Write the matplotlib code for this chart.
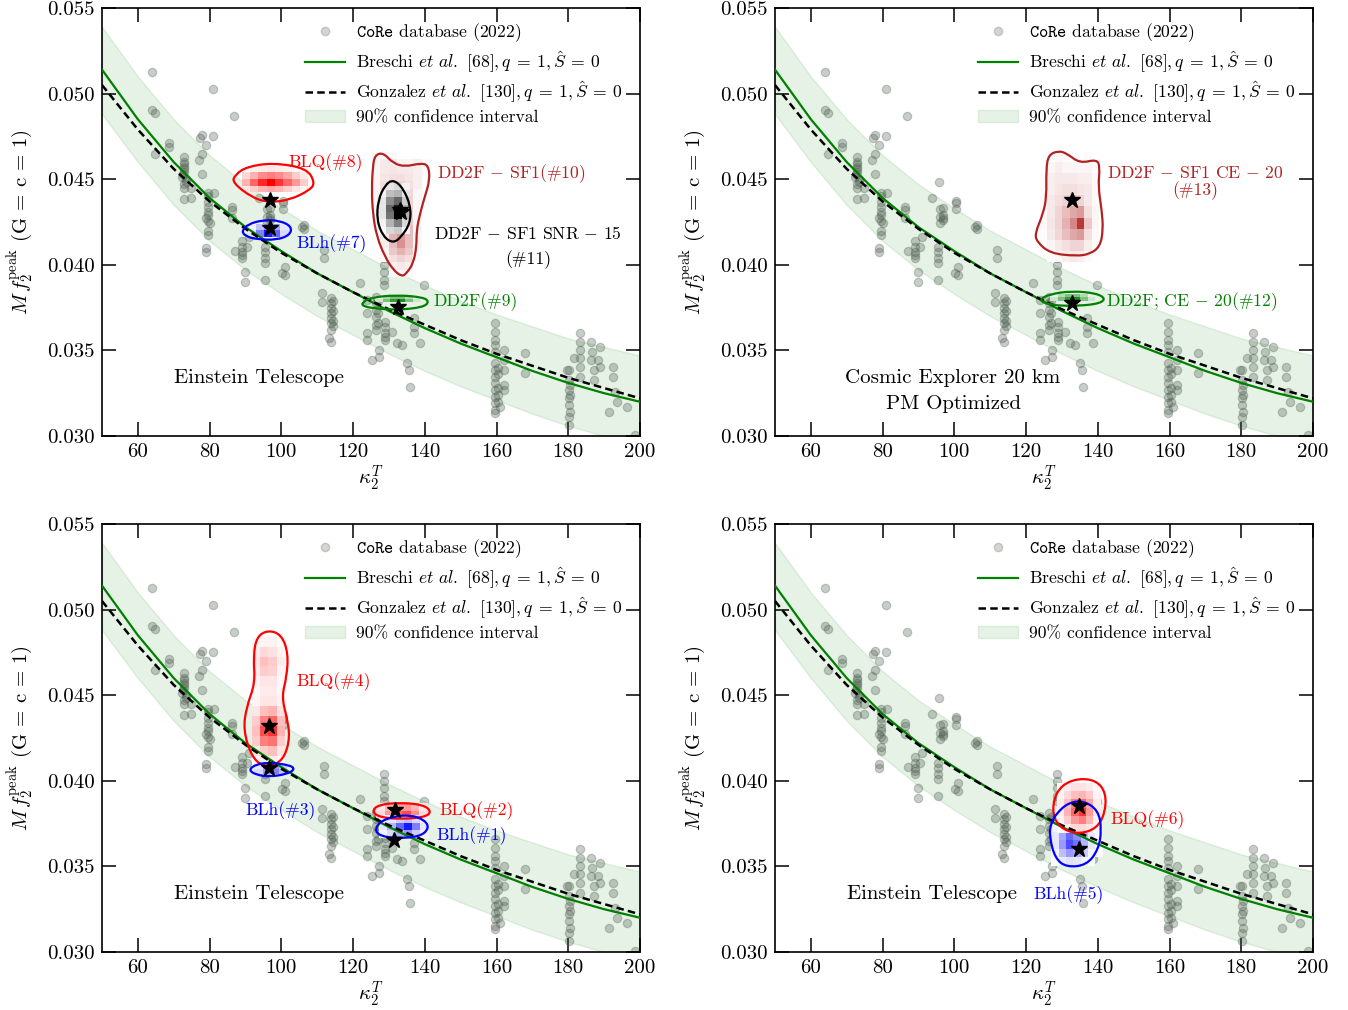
import numpy as np
import matplotlib
matplotlib.use("Agg")
import matplotlib.pyplot as plt
from matplotlib.path import Path
from matplotlib.patches import PathPatch, Patch
from matplotlib.lines import Line2D
from matplotlib.colors import LinearSegmentedColormap
import matplotlib.ticker as mticker

plt.rcParams['font.family'] = 'cmr10'
plt.rcParams['mathtext.fontset'] = 'cm'
plt.rcParams['axes.formatter.use_mathtext'] = True
plt.rcParams['axes.unicode_minus'] = False

# ---------------- data ----------------
fit_kappa = [50, 60, 70, 80, 90, 100, 110, 120, 130, 140, 150, 160, 170, 180, 190, 200]
breschi_f = [0.0514, 0.0485, 0.0460, 0.0439, 0.0422, 0.0408, 0.0395, 0.0384, 0.0373,
             0.0363, 0.0354, 0.0346, 0.0338, 0.0331, 0.0325, 0.0320]
gonzalez_f = [0.0505, 0.0479, 0.0456, 0.0437, 0.0421, 0.0407, 0.0395, 0.0384, 0.0374,
              0.0365, 0.0356, 0.0348, 0.0341, 0.0334, 0.0328, 0.0322]
band_upper = [0.0539, 0.0510, 0.0485, 0.0464, 0.0447, 0.0433, 0.0420, 0.0409, 0.0398,
              0.0388, 0.0379, 0.0371, 0.0364, 0.0357, 0.0352, 0.0347]
band_lower = [0.0488, 0.0460, 0.0435, 0.0414, 0.0397, 0.0383, 0.0370, 0.0359, 0.0348,
              0.0338, 0.0329, 0.0321, 0.0313, 0.0306, 0.0300, 0.0295]

core_points = [
    (63.9, 0.05128), (80.9, 0.05027), (63.9, 0.04904), (64.9, 0.04885), (86.8, 0.04867),
    (77.9, 0.04758), (77.2, 0.04742), (80.9, 0.04752), (79.0, 0.04700), (68.6, 0.04710),
    (68.6, 0.04690), (64.9, 0.04647), (77.9, 0.04647), (77.1, 0.04612),
    (73.0, 0.04631), (73.0, 0.04602), (73.0, 0.04573), (73.0, 0.04544), (72.2, 0.04515),
    (73.5, 0.04485), (73.0, 0.04447), (73.0, 0.04384), (73.0, 0.04590), (73.0, 0.04560),
    (72.5, 0.04530), (73.5, 0.04500), (73.0, 0.04470),
    (74.9, 0.04447), (74.9, 0.04389), (77.9, 0.04530),
    (79.6, 0.04418), (79.6, 0.04369), (79.6, 0.04339), (79.6, 0.04310), (79.0, 0.04272),
    (80.0, 0.04242), (79.6, 0.04174), (79.6, 0.04400), (79.6, 0.04290), (79.6, 0.04255),
    (79.6, 0.04200), (81.1, 0.04418), (79.0, 0.04100), (79.0, 0.04077),
    (86.2, 0.04339), (86.2, 0.04320), (86.2, 0.04272), (93.7, 0.04389), (95.7, 0.04485),
    (96.0, 0.04326), (96.9, 0.04334), (96.0, 0.04281), (96.9, 0.04275), (96.0, 0.04246),
    (100.6, 0.04373), (100.6, 0.04359), (100.6, 0.04326),
    (89.0, 0.04139), (89.0, 0.04106), (90.9, 0.04164), (90.4, 0.04106), (89.0, 0.04077),
    (105.8, 0.04223), (95.5, 0.04106), (95.5, 0.04077), (87.0, 0.04081),
    (89.0, 0.04057), (89.0, 0.04038), (89.8, 0.03960), (89.8, 0.03901),
    (95.5, 0.04038), (95.5, 0.04009), (95.5, 0.03911), (100.2, 0.03950),
    (96.9, 0.04291), (96.9, 0.04262), (106.4, 0.04233), (106.4, 0.04207),
    (101.1, 0.03989), (101.1, 0.03940), (111.8, 0.04087), (111.8, 0.04038),
    (111.3, 0.03834), (111.3, 0.03785),
    (113.8, 0.03804), (113.8, 0.03775), (113.8, 0.03746), (113.8, 0.03717), (113.8, 0.03687),
    (113.8, 0.03658), (113.8, 0.03619), (113.8, 0.03551), (113.2, 0.03571),
    (114.3, 0.03790), (114.3, 0.03730), (114.3, 0.03670), (114.3, 0.03640),
    (122.0, 0.03892), (123.9, 0.03794), (123.9, 0.03717), (123.9, 0.03600), (123.9, 0.03561),
    (128.5, 0.04038), (128.5, 0.03999), (128.5, 0.03960), (128.5, 0.03911), (128.5, 0.03882),
    (126.4, 0.03814), (126.4, 0.03775), (126.4, 0.03736), (126.4, 0.03697), (126.4, 0.03648),
    (126.4, 0.03619), (127.0, 0.03790), (127.0, 0.03720), (127.0, 0.03660),
    (129.0, 0.03668), (129.0, 0.03639), (129.0, 0.03600), (129.0, 0.03561),
    (129.0, 0.03580), (127.1, 0.03502), (127.1, 0.03463), (125.3, 0.03444),
    (130.9, 0.03609), (132.2, 0.03542), (133.6, 0.03532),
    (136.9, 0.03687), (136.9, 0.03639), (136.9, 0.03600), (138.8, 0.03542), (139.7, 0.03882),
    (135.0, 0.03425), (135.5, 0.03386), (136.0, 0.03288),
    (159.7, 0.03658), (159.7, 0.03609), (159.7, 0.03561), (159.7, 0.03532), (159.7, 0.03493),
    (159.7, 0.03425), (159.7, 0.03386), (159.7, 0.03346), (159.7, 0.03308), (159.7, 0.03269),
    (159.7, 0.03230), (159.7, 0.03191), (159.7, 0.03152), (159.7, 0.03133),
    (160.5, 0.03400), (160.5, 0.03360), (160.5, 0.03280), (160.5, 0.03240), (160.5, 0.03200),
    (161.0, 0.03170),
    (162.2, 0.03502), (162.2, 0.03444), (162.2, 0.03386), (162.2, 0.03298), (162.2, 0.03269),
    (168.0, 0.03483), (168.0, 0.03366),
    (180.2, 0.03386), (180.2, 0.03327), (180.2, 0.03269), (180.2, 0.03220), (180.2, 0.03181),
    (180.2, 0.03113), (180.2, 0.03064), (180.6, 0.03300), (180.6, 0.03240), (180.6, 0.03140),
    (183.3, 0.03604), (183.3, 0.03551), (183.3, 0.03502), (183.3, 0.03454), (183.3, 0.03405),
    (183.3, 0.03346), (181.5, 0.03454), (179.6, 0.03386),
    (186.3, 0.03551), (186.6, 0.03493), (186.3, 0.03444), (187.1, 0.03386), (187.1, 0.03327),
    (188.9, 0.03522), (188.4, 0.03444), (188.9, 0.03405),
    (192.6, 0.03405), (192.6, 0.03346), (193.1, 0.03259), (191.3, 0.03142), (193.6, 0.03200),
    (196.4, 0.03171), (198.7, 0.03006),
]
core_kappa = [p[0] for p in core_points]
core_f = [p[1] for p in core_points]

x_ticks = [60, 80, 100, 120, 140, 160, 180, 200]
y_ticks = [0.030, 0.035, 0.040, 0.045, 0.050, 0.055]

# ----- posteriors: contour (kappa, f), star, histogram (x0, dx, ytop, dy, grid top->bottom)
# Top-left (ET)
blq8_k = [86.33, 87.08, 90.34, 97.76, 107.06, 109.38, 107.99, 102.41, 96.84, 92.19]
blq8_f = [0.04480, 0.04525, 0.04573, 0.04596, 0.04564, 0.04480, 0.04437, 0.04379, 0.04365, 0.04388]
blq8_star = (96.8, 0.04379)
blq8_bins = (88.95, 2.32, 0.04579, 0.00039)
blq8_grid = [[0.03, 0.06, 0.08, 0.10, 0.08, 0.06, 0.03, 0.02],
             [0.15, 0.30, 0.45, 0.50, 0.45, 0.35, 0.20, 0.10],
             [0.30, 0.60, 0.85, 1.00, 0.80, 0.60, 0.40, 0.20],
             [0.10, 0.20, 0.30, 0.35, 0.30, 0.20, 0.10, 0.05]]

blh7_k = [88.95, 90.79, 94.97, 99.62, 102.9, 102.4, 98.7, 93.1, 89.9]
blh7_f = [0.04199, 0.04238, 0.04262, 0.04258, 0.04223, 0.04174, 0.04145, 0.04149, 0.04168]
blh7_star = (96.8, 0.04217)
blh7_bins = (90.5, 2.3, 0.04240, 0.00039)
blh7_grid = [[0.05, 0.25, 0.45, 0.35, 0.10],
             [0.10, 0.50, 0.90, 0.60, 0.15]]

dd10_k = [126.1, 128.4, 131.2, 134.5, 138.7, 141.0, 141.4, 140.0, 138.7, 137.7, 137.7, 136.8,
          134.9, 133.6, 131.2, 128.9, 126.6, 125.5, 125.2, 125.5]
dd10_f = [0.04641, 0.04655, 0.04593, 0.04573, 0.04593, 0.04583, 0.04495, 0.04398, 0.04301,
          0.04203, 0.04106, 0.04009, 0.03950, 0.03931, 0.03970, 0.04047, 0.04164, 0.04301,
          0.04437, 0.04573]
dd10_star = (133.5, 0.04310)
dd10_bins = (125.3, 2.3, 0.04660, 0.00043)
dd10_grid = [[0.03, 0.05, 0.03, 0, 0, 0, 0],
             [0.05, 0.10, 0.10, 0.05, 0.05, 0.08, 0.03],
             [0.05, 0.10, 0.12, 0.10, 0.10, 0.08, 0.03],
             [0.05, 0.12, 0.15, 0.15, 0.12, 0.08, 0.02],
             [0.05, 0.15, 0.20, 0.20, 0.15, 0.08, 0],
             [0.05, 0.15, 0.25, 0.25, 0.18, 0.05, 0],
             [0.05, 0.15, 0.25, 0.30, 0.20, 0.05, 0],
             [0.05, 0.15, 0.30, 0.30, 0.20, 0.05, 0],
             [0.03, 0.15, 0.30, 0.30, 0.20, 0.05, 0],
             [0.03, 0.12, 0.30, 0.35, 0.25, 0.05, 0],
             [0.02, 0.10, 0.30, 0.40, 0.30, 0.05, 0],
             [0, 0.10, 0.35, 0.45, 0.30, 0.05, 0],
             [0, 0.08, 0.30, 0.50, 0.30, 0.05, 0],
             [0, 0.05, 0.25, 0.35, 0.25, 0.03, 0],
             [0, 0.03, 0.15, 0.20, 0.15, 0.02, 0],
             [0, 0, 0.08, 0.10, 0.08, 0, 0],
             [0, 0, 0.03, 0.05, 0.03, 0, 0]]

dd11_k = [131.2, 134.0, 136.1, 135.9, 133.5, 131.2, 128.4, 126.6, 127.0, 128.9]
dd11_f = [0.04499, 0.04447, 0.04339, 0.04242, 0.04164, 0.04126, 0.04164, 0.04262, 0.04379, 0.04466]
dd11_star = (133.1, 0.04320)
dd11_bins = (126.8, 2.3, 0.04480, 0.00043)
dd11_grid = [[0, 0.10, 0.15, 0.05],
             [0.05, 0.25, 0.30, 0.10],
             [0.10, 0.45, 0.60, 0.20],
             [0.10, 0.60, 0.90, 0.30],
             [0.10, 0.55, 1.00, 0.30],
             [0.05, 0.30, 0.50, 0.15],
             [0.02, 0.15, 0.20, 0.05]]

dd9_k = [122.4, 124.7, 132.2, 139.6, 141.2, 139.6, 132.2, 125.6, 122.8]
dd9_f = [0.03775, 0.03808, 0.03824, 0.03810, 0.03785, 0.03752, 0.03736, 0.03746, 0.03759]
dd9_star = (132.6, 0.03755)
dd9_bins = (126.2, 2.1, 0.03820, 0.00020)
dd9_grid = [[0.10, 0.30, 0.50, 0.50, 0.30, 0.10],
            [0.20, 0.50, 0.80, 0.90, 0.50, 0.20]]

# Top-right (CE 20 km)
dd13_k = [126.2, 129.0, 131.3, 135.0, 139.7, 140.6, 140.1, 141.1, 141.5, 140.6, 137.8, 134.1,
          126.7, 123.0, 122.5, 124.8, 125.7, 125.6]
dd13_f = [0.04641, 0.04666, 0.04651, 0.04593, 0.04616, 0.04573, 0.04456, 0.04320, 0.04203,
          0.04106, 0.04063, 0.04051, 0.04067, 0.04135, 0.04184, 0.04301, 0.04398, 0.04554]
dd13_star = (132.7, 0.04379)
dd13_bins = (123.9, 2.06, 0.04666, 0.00065)
dd13_grid = [[0, 0.02, 0.03, 0.02, 0.02, 0, 0.02, 0],
             [0, 0.05, 0.08, 0.05, 0.05, 0.05, 0.05, 0.02],
             [0.02, 0.08, 0.10, 0.10, 0.10, 0.08, 0.08, 0.03],
             [0.02, 0.08, 0.12, 0.15, 0.15, 0.12, 0.10, 0.03],
             [0.03, 0.10, 0.15, 0.20, 0.25, 0.20, 0.10, 0.03],
             [0.03, 0.10, 0.20, 0.30, 0.40, 0.45, 0.15, 0.05],
             [0.03, 0.12, 0.20, 0.35, 0.55, 0.90, 0.25, 0.05],
             [0.02, 0.10, 0.18, 0.30, 0.40, 0.45, 0.15, 0.03],
             [0, 0.05, 0.10, 0.15, 0.20, 0.20, 0.08, 0.02],
             [0, 0.02, 0.05, 0.08, 0.10, 0.08, 0.03, 0]]

dd12_k = [123.4, 126.7, 132.7, 139.7, 142.3, 139.7, 132.7, 126.7]
dd12_f = [0.03794, 0.03829, 0.03847, 0.03834, 0.03799, 0.03769, 0.03759, 0.03765]
dd12_star = (132.7, 0.03779)
dd12_bins = (126.7, 2.1, 0.03830, 0.00020)
dd12_grid = [[0.10, 0.30, 0.50, 0.50, 0.30, 0.10],
             [0.20, 0.50, 0.80, 0.90, 0.50, 0.20]]

# Bottom-left (ET)
blq4_k = [96.4, 100.1, 101.9, 101.5, 100.1, 101.5, 102.4, 101.0, 98.2, 95.0, 91.7, 89.4, 90.3,
          92.7, 92.2, 93.1]
blq4_f = [0.04881, 0.04852, 0.04745, 0.04608, 0.04491, 0.04374, 0.04258, 0.04141, 0.04092,
          0.04082, 0.04141, 0.04297, 0.04433, 0.04570, 0.04725, 0.04842]
blq4_star = (96.6, 0.04320)
blq4_bins = (91.7, 2.33, 0.04842, 0.00058)
blq4_grid = [[0.03, 0.05, 0.05, 0.02],
             [0.08, 0.15, 0.12, 0.05],
             [0.10, 0.25, 0.20, 0.08],
             [0.08, 0.20, 0.18, 0.05],
             [0.05, 0.10, 0.10, 0.03],
             [0.03, 0.08, 0.08, 0.03],
             [0.05, 0.10, 0.10, 0.05],
             [0.10, 0.25, 0.30, 0.12],
             [0.20, 0.50, 0.60, 0.25],
             [0.25, 0.70, 0.80, 0.30],
             [0.20, 0.50, 0.55, 0.20],
             [0.10, 0.20, 0.25, 0.10],
             [0.03, 0.08, 0.08, 0.03]]

blh3_k = [90.8, 93.1, 96.8, 102.4, 103.8, 101.5, 96.8, 93.1]
blh3_f = [0.04063, 0.04098, 0.04106, 0.04092, 0.04067, 0.04039, 0.04024, 0.04034]
blh3_star = (96.6, 0.04073)
blh3_bins = (92.5, 2.3, 0.04100, 0.00030)
blh3_grid = [[0.10, 0.30, 0.40, 0.20],
             [0.15, 0.40, 0.50, 0.25]]

blq2_k = [125.2, 127.0, 133.1, 139.6, 141.9, 140.0, 133.1, 127.5]
blq2_f = [0.03820, 0.03860, 0.03873, 0.03860, 0.03820, 0.03787, 0.03776, 0.03787]
blq2_star = (131.7, 0.03832)
blq2_bins = (126.5, 2.4, 0.03870, 0.00045)
blq2_grid = [[0.10, 0.30, 0.40, 0.40, 0.30, 0.10],
             [0.15, 0.40, 0.60, 0.70, 0.45, 0.15]]

blh1_k = [126.1, 127.5, 131.2, 135.9, 140.0, 141.2, 138.7, 132.2, 127.5]
blh1_f = [0.03713, 0.03761, 0.03791, 0.03801, 0.03771, 0.03723, 0.03674, 0.03664, 0.03678]
blh1_star = (131.4, 0.03654)
blh1_bins = (127.3, 2.3, 0.03800, 0.00045)
blh1_grid = [[0.05, 0.10, 0.20, 0.25, 0.15, 0.05],
             [0.10, 0.30, 0.60, 0.90, 0.50, 0.10],
             [0.05, 0.15, 0.30, 0.40, 0.20, 0.05]]

# Bottom-right (ET)
blq6_k = [127.6, 129.9, 134.6, 139.7, 142.3, 142.0, 139.7, 135.0, 130.4, 127.6]
blq6_f = [0.03888, 0.03975, 0.04015, 0.04001, 0.03927, 0.03810, 0.03723, 0.03689, 0.03713, 0.03781]
blq6_star = (134.8, 0.03850)
blq6_bins = (128.5, 2.05, 0.03990, 0.00049)
blq6_grid = [[0.03, 0.08, 0.12, 0.12, 0.08, 0.03],
             [0.05, 0.15, 0.25, 0.30, 0.20, 0.05],
             [0.08, 0.25, 0.50, 0.60, 0.35, 0.08],
             [0.08, 0.30, 0.60, 0.80, 0.40, 0.10],
             [0.05, 0.20, 0.40, 0.50, 0.30, 0.05],
             [0.03, 0.08, 0.15, 0.15, 0.10, 0.02]]

blh5_k = [128.5, 131.8, 135.9, 140.1, 141.1, 140.1, 136.9, 131.3, 128.1, 126.5, 126.9]
blh5_f = [0.03810, 0.03872, 0.03884, 0.03829, 0.03713, 0.03596, 0.03508, 0.03495, 0.03547,
          0.03674, 0.03752]
blh5_star = (134.8, 0.03600)
blh5_bins = (127.0, 2.05, 0.03750, 0.00049)
blh5_grid = [[0.05, 0.15, 0.25, 0.20, 0.10, 0.05, 0.02],
             [0.10, 0.35, 0.60, 0.45, 0.25, 0.10, 0.03],
             [0.10, 0.40, 0.70, 0.55, 0.30, 0.10, 0.03],
             [0.05, 0.25, 0.40, 0.35, 0.20, 0.05, 0.02],
             [0.02, 0.08, 0.12, 0.10, 0.05, 0.02, 0]]

RED, BLUE, GREEN, BROWN, BLACK = 'red', 'blue', 'green', '#b22222', 'black'
PT_COLOR = '#4c5c4f'

# ---------------- helpers ----------------
def smooth_closed_path(xs, ys):
    P = np.column_stack([xs, ys])
    M = (P + np.roll(P, -1, axis=0)) / 2.0
    verts = [M[-1]]
    codes = [Path.MOVETO]
    for i in range(len(P)):
        verts += [P[i], M[i]]
        codes += [Path.CURVE3, Path.CURVE3]
    return Path(verts, codes)


def draw_hist(ax, bins, grid, color):
    x0, dx, ytop, dy = bins
    g = np.array(grid, float)[::-1]
    ny, nx = g.shape
    xe = x0 + dx * np.arange(nx + 1)
    ye = ytop - dy * ny + dy * np.arange(ny + 1)
    cmap = LinearSegmentedColormap.from_list('c', ['white', color])
    ax.pcolormesh(xe, ye, np.ma.masked_less_equal(g, 0), cmap=cmap, vmin=0, vmax=1,
                  shading='flat', zorder=3, edgecolors='none', antialiased=False)


def draw_contour(ax, ks, fs, color):
    ax.add_patch(PathPatch(smooth_closed_path(ks, fs), facecolor='none', edgecolor=color,
                           lw=1.6, zorder=5))


def draw_star(ax, star):
    ax.plot([star[0]], [star[1]], marker='*', color='black', ms=12, ls='', zorder=7)


def base_panel(ax):
    ax.fill_between(fit_kappa, band_lower, band_upper, color='green', alpha=0.1, lw=1.0, zorder=1)
    ax.plot(core_kappa, core_f, 'o', color=PT_COLOR, alpha=0.3, ms=6.0, mew=0.9, zorder=2)
    ax.plot(fit_kappa, breschi_f, color='green', lw=1.6, zorder=4)
    ax.plot(fit_kappa, gonzalez_f, color='black', lw=1.8, ls=(0, (3.0, 1.7)), zorder=4)
    ax.set_xlim(50, 200)
    ax.set_ylim(0.030, 0.055)
    ax.set_xticks(x_ticks)
    ax.set_yticks(y_ticks)
    ax.yaxis.set_major_formatter(mticker.FormatStrFormatter('%.3f'))
    ax.xaxis.set_major_formatter(mticker.FormatStrFormatter('%d'))
    ax.tick_params(direction='in', top=True, right=True, length=10, width=1.1,
                   labelsize=15, pad=5)
    for s in ax.spines.values():
        s.set_linewidth(1.2)
    ax.set_xlabel(r'$\kappa_2^T$', fontsize=15, labelpad=2)
    ax.set_ylabel(r'$M\,f_2^{\rm peak}$ (G = c = 1)', fontsize=15, labelpad=8)

    handles = [
        Line2D([], [], marker='o', ls='', color=PT_COLOR, alpha=0.25, ms=6),
        Line2D([], [], color='green', lw=1.6),
        Line2D([], [], color='black', lw=1.8, ls=(0, (3.0, 1.7))),
        Patch(facecolor='green', edgecolor='green', alpha=0.1),
    ]
    labels = [
        r'$\mathtt{CoRe}$ database (2022)',
        r'Breschi $\mathit{et\ al.}$ [68]$,q\:=\:1,\hat{S}\:=\:0$',
        r'Gonzalez $\mathit{et\ al.}$ [130]$,q\:=\:1,\hat{S}\:=\:0$',
        r'90% confidence interval',
    ]
    ax.legend(handles, labels, loc='upper left', bbox_to_anchor=(0.377, 0.968),
              frameon=False, fontsize=12.7, handlelength=2.3, handletextpad=0.6,
              labelspacing=0.27, borderpad=0, borderaxespad=0)


def label(ax, x, y, s, color, **kw):
    ax.text(x, y, s, color=color, fontsize=12.7, va='center', zorder=8, **kw)


MINUS = r'$\,-\,$'

fig = plt.figure(figsize=(13.48, 10.10), dpi=100)
W, H = 538 / 1348, 428 / 1010
ax_tl = fig.add_axes([102 / 1348, 1 - 436 / 1010, W, H])
ax_tr = fig.add_axes([775 / 1348, 1 - 436 / 1010, W, H])
ax_bl = fig.add_axes([102 / 1348, 1 - 952 / 1010, W, H])
ax_br = fig.add_axes([775 / 1348, 1 - 952 / 1010, W, H])
for a in (ax_tl, ax_tr, ax_bl, ax_br):
    base_panel(a)

# ---- top-left
ax = ax_tl
draw_hist(ax, blq8_bins, blq8_grid, RED)
draw_hist(ax, blh7_bins, blh7_grid, BLUE)
draw_hist(ax, dd10_bins, dd10_grid, BROWN)
draw_hist(ax, dd11_bins, dd11_grid, BLACK)
draw_hist(ax, dd9_bins, dd9_grid, GREEN)
draw_contour(ax, blq8_k, blq8_f, RED)
draw_contour(ax, blh7_k, blh7_f, BLUE)
draw_contour(ax, dd10_k, dd10_f, BROWN)
draw_contour(ax, dd11_k, dd11_f, BLACK)
draw_contour(ax, dd9_k, dd9_f, GREEN)
for st in (blq8_star, blh7_star, dd10_star, dd11_star, dd9_star):
    draw_star(ax, st)
label(ax, 102.1, 0.04595, 'BLQ(#8)', RED)
label(ax, 104.3, 0.04126, 'BLh(#7)', BLUE)
label(ax, 143.3, 0.04534, 'DD2F' + MINUS + 'SF1(#10)', BROWN)
label(ax, 168.8, 0.04106, 'DD2F' + MINUS + 'SF1 SNR' + MINUS + '15\n(#11)', BLACK,
      ha='center', multialignment='center', linespacing=1.6)
label(ax, 142.4, 0.03785, 'DD2F(#9)', GREEN)
ax.text(0.292, 0.136, 'Einstein Telescope', transform=ax.transAxes, ha='center',
        va='center', fontsize=15)

# ---- top-right
ax = ax_tr
draw_hist(ax, dd13_bins, dd13_grid, BROWN)
draw_hist(ax, dd12_bins, dd12_grid, GREEN)
draw_contour(ax, dd13_k, dd13_f, BROWN)
draw_contour(ax, dd12_k, dd12_f, GREEN)
for st in (dd13_star, dd12_star):
    draw_star(ax, st)
label(ax, 167.3, 0.04481, 'DD2F' + MINUS + 'SF1 CE' + MINUS + '20\n(#13)', BROWN,
      ha='center', multialignment='center', linespacing=1.0)
label(ax, 142.3, 0.03785, 'DD2F; CE' + MINUS + '20(#12)', GREEN)
ax.text(0.331, 0.105, 'Cosmic Explorer 20 km\nPM Optimized', transform=ax.transAxes,
        ha='center', va='center', multialignment='center', fontsize=15, linespacing=1.55)

# ---- bottom-left
ax = ax_bl
draw_hist(ax, blq4_bins, blq4_grid, RED)
draw_hist(ax, blh3_bins, blh3_grid, BLUE)
draw_hist(ax, blq2_bins, blq2_grid, RED)
draw_hist(ax, blh1_bins, blh1_grid, BLUE)
draw_contour(ax, blq4_k, blq4_f, RED)
draw_contour(ax, blh3_k, blh3_f, BLUE)
draw_contour(ax, blq2_k, blq2_f, RED)
draw_contour(ax, blh1_k, blh1_f, BLUE)
for st in (blq4_star, blh3_star, blq2_star, blh1_star):
    draw_star(ax, st)
label(ax, 104.3, 0.04579, 'BLQ(#4)', RED)
label(ax, 89.9, 0.03826, 'BLh(#3)', BLUE)
label(ax, 144.2, 0.03826, 'BLQ(#2)', RED)
label(ax, 143.3, 0.03680, 'BLh(#1)', BLUE)
ax.text(0.292, 0.136, 'Einstein Telescope', transform=ax.transAxes, ha='center',
        va='center', fontsize=15)

# ---- bottom-right
ax = ax_br
draw_hist(ax, blh5_bins, blh5_grid, BLUE)
draw_hist(ax, blq6_bins, blq6_grid, RED)
draw_contour(ax, blq6_k, blq6_f, RED)
draw_contour(ax, blh5_k, blh5_f, BLUE)
for st in (blq6_star, blh5_star):
    draw_star(ax, st)
label(ax, 143.4, 0.03771, 'BLQ(#6)', RED)
label(ax, 122.0, 0.03333, 'BLh(#5)', BLUE)
ax.text(0.292, 0.136, 'Einstein Telescope', transform=ax.transAxes, ha='center',
        va='center', fontsize=15)

fig.savefig('out.png', dpi=100)
